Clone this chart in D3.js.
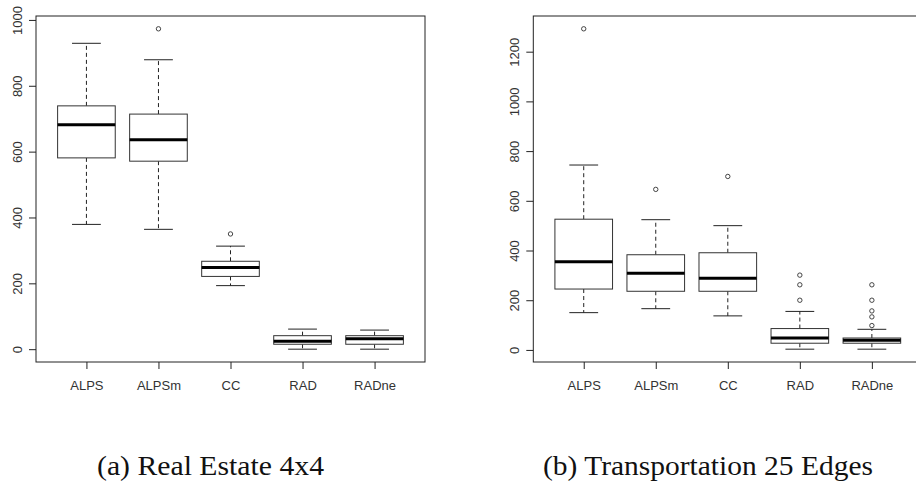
<!DOCTYPE html>
<html>
<head>
<meta charset="utf-8">
<script src="https://cdnjs.cloudflare.com/ajax/libs/d3/7.8.5/d3.min.js"></script>
<style>
    body { margin: 0; background: #fff; }
    .axis text { font-family: "Liberation Sans", Arial, sans-serif; font-size: 13px; fill: #333; }
    .axis line { stroke: #222; }
    .caption { font-family: "Liberation Serif", "DejaVu Serif", serif; font-size: 27px; fill: #111; }
</style>
</head>
<body>
<svg id="chart"></svg>
<script>
// methods on the x axis
const categories = ['ALPS', 'ALPSm', 'CC', 'RAD', 'RADne'];

// (a) Real Estate 4x4
const estateLow = [379, 364, 193, 0, 0];
const estateQ1 = [581, 571, 221, 15, 15];
const estateMed = [682, 636, 248, 24, 32];
const estateQ3 = [739, 714, 267, 41, 41];
const estateHigh = [929, 879, 313, 61, 58];
const estateOut = [[], [973], [350], [], []];
const estateTicks = [0, 200, 400, 600, 800, 1000];

// (b) Transportation 25 Edges
const transLow = [150, 166, 137, 3, 3];
const transQ1 = [245, 236, 236, 27, 27];
const transMed = [355, 309, 288, 48, 39];
const transQ3 = [526, 383, 391, 86, 48];
const transHigh = [744, 524, 500, 155, 83];
const transOut = [[1292], [646], [698], [301, 262, 200], [262, 200, 157, 133, 98]];
const transTicks = [0, 200, 400, 600, 800, 1000, 1200];

const captions = ['(a) Real Estate 4x4', '(b) Transportation 25 Edges'];

let svg = d3.select('#chart')
    .attr('width', 916)
    .attr('height', 482);

// one boxplot panel, R style
const renderPanel = function(p) {
    let top = 16, bottom = 362, w = 389;
    let all = p.low.concat(p.high, d3.merge(p.out));
    let lo = d3.min(all), hi = d3.max(all);
    let pad = (hi - lo) * 0.04;
    let y = d3.scaleLinear().domain([lo - pad, hi + pad]).range([bottom, top]);
    let x = d3.scaleLinear().domain([0.3, 5.7]).range([p.left, p.left + w]);

    let rows = categories.map(function(c, i) {
        return { i: i + 1, low: p.low[i], q1: p.q1[i], med: p.med[i], q3: p.q3[i], high: p.high[i], out: p.out[i] };
    });

    let g = svg.append('g').attr('class', 'panel');

    // y axis
    let ya = g.append('g')
        .attr('class', 'axis')
        .attr('transform', 'translate(' + p.left + ',0)')
        .call(d3.axisLeft(y).tickValues(p.ticks).tickSize(7).tickFormat(d3.format('d')));
    ya.select('.domain').remove();
    ya.selectAll('text')
        .attr('transform', 'rotate(-90)')
        .attr('x', 0)
        .attr('y', -14.5)
        .attr('dy', 0)
        .attr('text-anchor', 'middle');

    // x axis
    let xa = g.append('g')
        .attr('class', 'axis')
        .attr('transform', 'translate(0,' + bottom + ')')
        .call(d3.axisBottom(x).tickValues([1, 2, 3, 4, 5]).tickSize(7).tickPadding(12)
            .tickFormat(function(d) { return categories[d - 1]; }));
    xa.select('.domain').remove();

    let box = g.selectAll('g.box')
        .data(rows)
        .enter()
        .append('g')
        .attr('class', 'box');

    // whiskers
    box.append('line')
        .attr('x1', function(d) { return x(d.i); })
        .attr('x2', function(d) { return x(d.i); })
        .attr('y1', function(d) { return y(d.q3); })
        .attr('y2', function(d) { return y(d.high); })
        .attr('stroke', '#222')
        .attr('stroke-dasharray', '4,3');
    box.append('line')
        .attr('x1', function(d) { return x(d.i); })
        .attr('x2', function(d) { return x(d.i); })
        .attr('y1', function(d) { return y(d.q1); })
        .attr('y2', function(d) { return y(d.low); })
        .attr('stroke', '#222')
        .attr('stroke-dasharray', '4,3');

    // staples
    ['high', 'low'].forEach(function(k) {
        box.append('line')
            .attr('x1', function(d) { return x(d.i - 0.2); })
            .attr('x2', function(d) { return x(d.i + 0.2); })
            .attr('y1', function(d) { return y(d[k]); })
            .attr('y2', function(d) { return y(d[k]); })
            .attr('stroke', '#222');
    });

    box.append('rect')
        .attr('x', function(d) { return x(d.i - 0.4); })
        .attr('width', function(d) { return x(d.i + 0.4) - x(d.i - 0.4); })
        .attr('y', function(d) { return y(d.q3); })
        .attr('height', function(d) { return y(d.q1) - y(d.q3); })
        .attr('fill', '#fff')
        .attr('stroke', '#333');

    box.append('line')
        .attr('x1', function(d) { return x(d.i - 0.4); })
        .attr('x2', function(d) { return x(d.i + 0.4); })
        .attr('y1', function(d) { return y(d.med); })
        .attr('y2', function(d) { return y(d.med); })
        .attr('stroke', '#000')
        .attr('stroke-width', 3);

    // outliers
    box.selectAll('circle')
        .data(function(d) { return d.out.map(function(v) { return { i: d.i, v: v }; }); })
        .enter()
        .append('circle')
        .attr('cx', function(d) { return x(d.i); })
        .attr('cy', function(d) { return y(d.v); })
        .attr('r', 2.2)
        .attr('fill', 'none')
        .attr('stroke', '#444');

    // frame
    g.append('rect')
        .attr('x', p.left)
        .attr('y', top)
        .attr('width', w)
        .attr('height', bottom - top)
        .attr('fill', 'none')
        .attr('stroke', '#222');

    g.append('text')
        .attr('class', 'caption')
        .attr('x', p.capX)
        .attr('y', 475)
        .attr('textLength', p.capW)
        .attr('lengthAdjust', 'spacingAndGlyphs')
        .text(p.caption);
};

renderPanel({ left: 36, low: estateLow, q1: estateQ1, med: estateMed, q3: estateQ3, high: estateHigh,
    out: estateOut, ticks: estateTicks, caption: captions[0], capX: 97, capW: 227 });
renderPanel({ left: 533.3, low: transLow, q1: transQ1, med: transMed, q3: transQ3, high: transHigh,
    out: transOut, ticks: transTicks, caption: captions[1], capX: 543, capW: 330 });
</script>
</body>
</html>
